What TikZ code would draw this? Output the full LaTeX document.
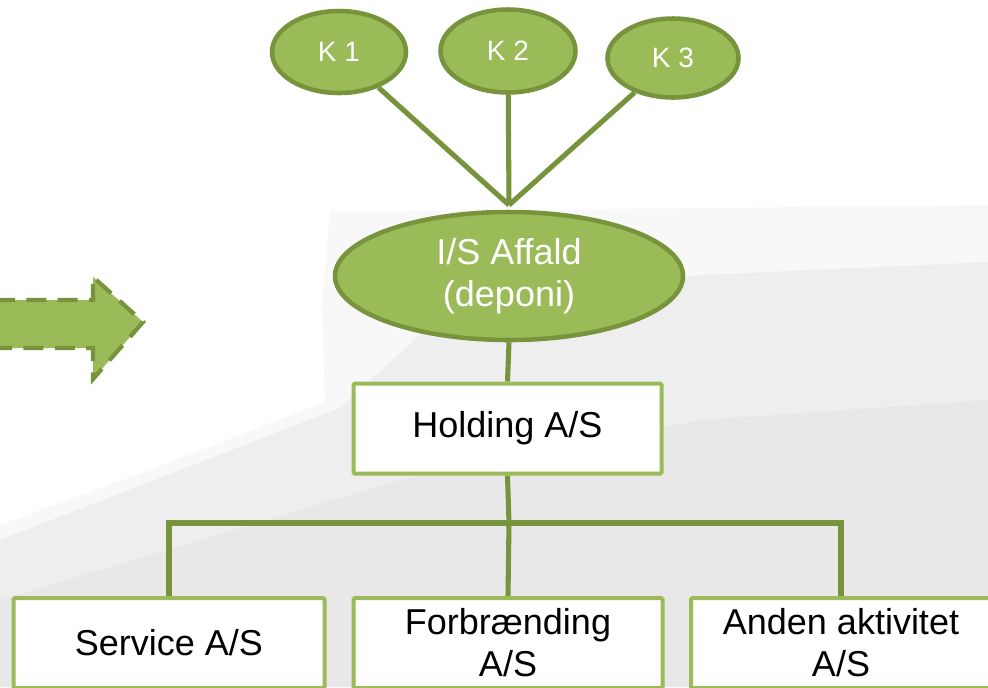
\documentclass[tikz,border=0pt]{standalone}
\usepackage{fontspec}
\setmainfont{Liberation Sans}
\usetikzlibrary{shapes.geometric}
\definecolor{gfill}{HTML}{9BBB59}
\definecolor{gdark}{HTML}{77933C}
\definecolor{bgA}{HTML}{F8F8F8}
\definecolor{bgB}{HTML}{EEEEEE}
\definecolor{bgC}{HTML}{E8E8E8}
\newdimen\upx \upx=0.75pt
\pgfdeclarelayer{bglayer}
\pgfdeclarelayer{edgelayer}
\pgfsetlayers{bglayer,edgelayer,main}
\tikzset{
  kell/.style={ellipse, draw=gdark, fill=gfill, line width=3.4pt, inner sep=0pt,
    text=white, font=\fontsize{21}{24}\selectfont},
  bigell/.style={ellipse, draw=gdark, fill=gfill, line width=3.4pt, inner sep=0pt,
    text=white, align=center, font=\fontsize{27}{31.5}\selectfont},
  orgbox/.style={rectangle, draw=gfill, fill=white, line width=3pt, inner sep=0pt,
    align=center, font=\fontsize{27}{31.5}\selectfont, rounded corners=1pt},
  conn/.style={draw=gdark, line width=3.8pt},
}
\begin{document}
\begin{tikzpicture}[x=0.75pt, y=-0.75pt]
\useasboundingbox (0,0) rectangle (988,687);
\clip (0,0) rectangle (988,687);
\begin{pgfonlayer}{bglayer}
\fill[white] (0,0) rectangle (988,687);
\fill[bgA] (0,525) -- (150,470) -- (325,402) -- (322,300) -- (330,212) -- (988,205) -- (988,687) -- (0,687) -- cycle;
\fill[bgB] (0,540) -- (170,474) -- (340,408) -- (420,335) -- (560,292) -- (700,275) -- (988,262) -- (988,687) -- (0,687) -- cycle;
\fill[bgC] (0,600) -- (200,540) -- (400,480) -- (700,420) -- (988,400) -- (988,687) -- (0,687) -- cycle;
\end{pgfonlayer}
% dashed arrow
\draw[fill=gfill, draw=gdark, line width=3.2pt, dash pattern=on 15pt off 8.5pt]
  (-5,300) -- (93,300) -- (93,277) -- (143,322) -- (93,379) -- (93,348) -- (-5,348) -- cycle;
% nodes
\node[kell, minimum width=134\upx, minimum height=82\upx] (k1) at (339,52) {K 1};
\node[kell, minimum width=135\upx, minimum height=83\upx] (k2) at (508,51) {K 2};
\node[kell, minimum width=131\upx, minimum height=79\upx] (k3) at (673,58) {K 3};
\node[bigell, minimum width=348\upx, minimum height=128\upx] (is) at (509,276) {I/S Affald\\(deponi)};
\node[orgbox, minimum width=308\upx, minimum height=90\upx] (hold) at (507.5,428.5) {Holding A/S};
\node[orgbox, minimum width=311\upx, minimum height=90\upx] (svc) at (169,643) {Service A/S};
\node[orgbox, minimum width=309\upx, minimum height=90\upx] (forb) at (508,643) {Forbrænding\\A/S};
\node[orgbox, minimum width=300\upx, minimum height=90\upx] (anden) at (841,643) {Anden aktivitet\\A/S};
% connectors
\begin{pgfonlayer}{edgelayer}
\coordinate (top) at (509,205);
\draw[conn] (k1) -- (top);
\draw[conn] (k2) -- (top);
\draw[conn] (k3) -- (top);
\draw[conn] (is.south) -- (hold.north);
\draw[conn] (hold.south) -- (509,523) coordinate (j);
\draw[conn] (svc.north) |- (j) -| (anden.north);
\draw[conn] (j) -- (forb.north);
\end{pgfonlayer}
\end{tikzpicture}
\end{document}
